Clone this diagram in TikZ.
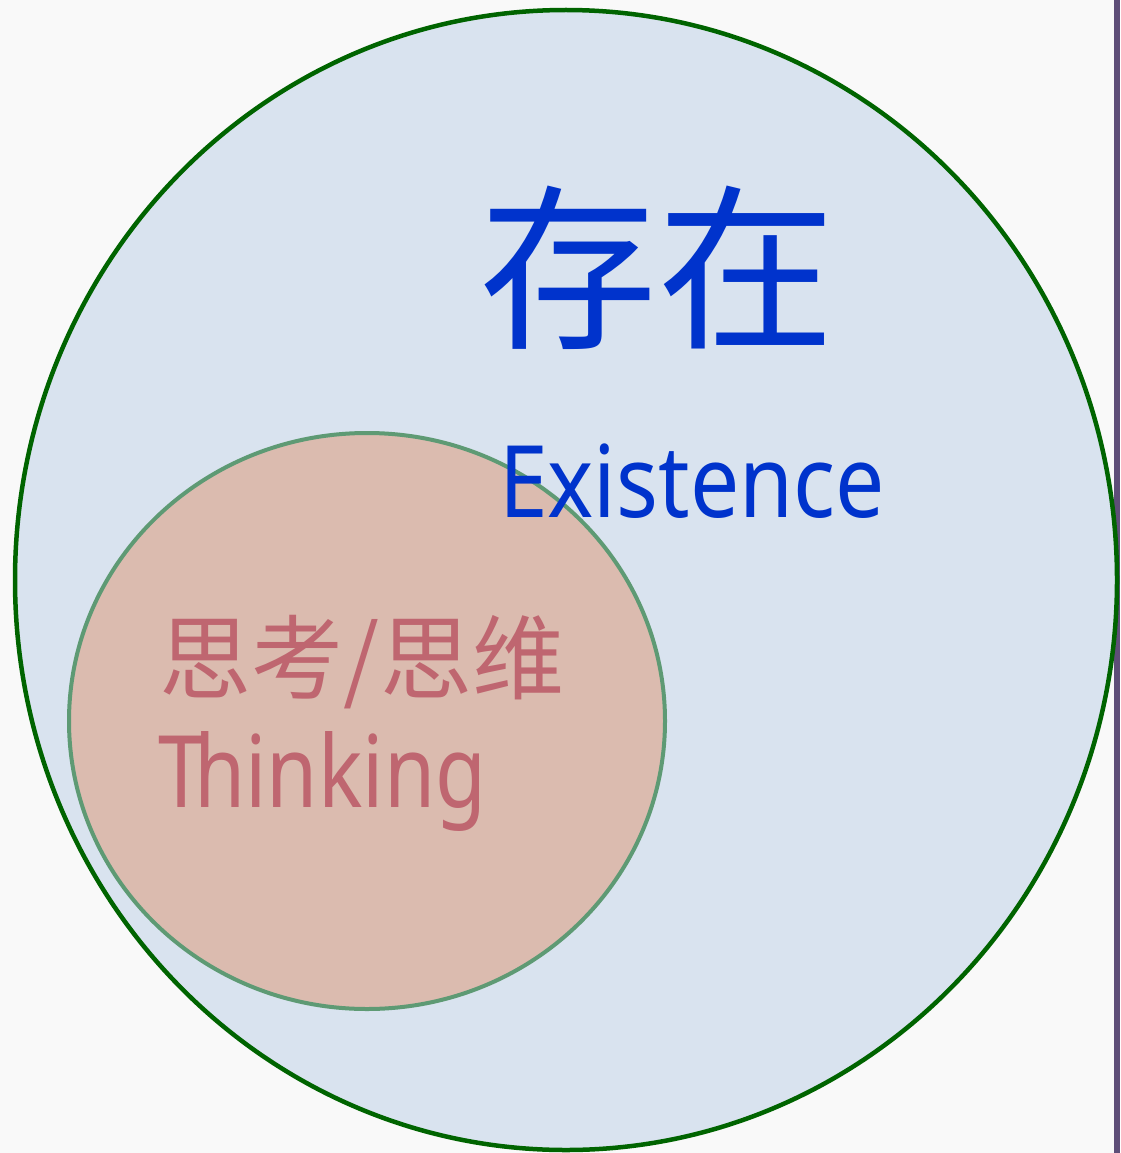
\documentclass[tikz,border=0pt]{standalone}
\usepackage{fontspec}
\setmainfont{Noto Sans}
\newfontfamily\cjk{Noto Sans CJK SC}
\definecolor{bg}{HTML}{F9F9F9}
\definecolor{bar}{HTML}{5E4E78}
\definecolor{outerfill}{HTML}{D9E3EF}
\definecolor{outerline}{HTML}{006400}
\definecolor{innerfill}{HTML}{DBBBAF}
\definecolor{innerline}{HTML}{5E9A74}
\definecolor{blue}{HTML}{0033CC}
\definecolor{pinktext}{HTML}{BF6670}
\begin{document}
\begin{tikzpicture}[x=1pt,y=-1pt,
  lbl/.style={inner sep=0pt,outer sep=0pt}]
\useasboundingbox (0,0) rectangle (1120,1153);
\fill[bg] (0,0) rectangle (1120,1153);
\fill[bar] (1114,0) rectangle (1120,1153);
\draw[fill=outerfill,draw=outerline,line width=4.5pt] (566,580) ellipse [x radius=551, y radius=570];
\draw[fill=innerfill,draw=innerline,line width=4pt] (367,721) ellipse [x radius=298, y radius=288];
\node[lbl,text=blue] (cn) at (657,268) {\cjk\fontsize{178}{178}\selectfont 存在};
\node[lbl,text=blue,anchor=base west,xscale=0.875] (en) at (499,517) {\fontsize{100}{100}\selectfont Existence};
\node[lbl,text=pinktext] (thcn) at (362,662) {\cjk\fontsize{92}{92}\selectfont 思考/思维};
\node[lbl,text=pinktext,anchor=base west,xscale=0.83] (then) at (158,807) {\fontsize{100}{100}\selectfont T\kern-0.12em hinking};
\end{tikzpicture}
\end{document}
